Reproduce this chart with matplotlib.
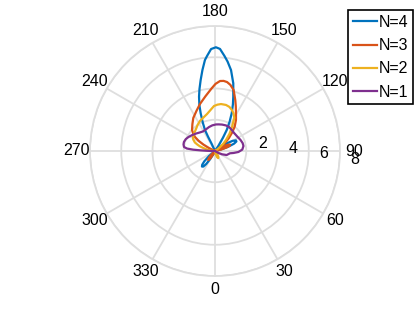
import numpy as np
import matplotlib
matplotlib.use("Agg")
import matplotlib.pyplot as plt

plt.rcParams['font.family'] = ['Liberation Sans', 'DejaVu Sans']

# ---- data (degrees, radius) ----
theta_n4 = [0, 100, 105, 108, 111, 114, 117, 120, 123, 126, 130, 135, 140, 146, 149, 150.9,
            153.5, 156.1, 159, 161.4, 164.9, 168.8, 172, 174.3, 177.2, 179.5, 182.2, 184.8,
            186.3, 188.8, 191.4, 194, 196.4, 198.8, 200.8, 203.2, 205.5, 206, 205, 210,
            305, 310, 314, 317, 320, 323, 326, 329, 333, 338, 360]
r_n4 = [0, 0, 0.4, 0.9, 1.3, 1.5, 1.5, 1.3, 0.9, 0.5, 0.2, 0, 0, 0.4, 1.0, 1.54,
        2.1, 2.64, 3.2, 3.67, 4.49, 5.28, 5.78, 6.11, 6.54, 6.64, 6.53, 6.1,
        5.86, 5.25, 4.64, 4.1, 3.62, 3.1, 2.58, 2.0, 1.49, 1.0, 0.5, 0,
        0, 0.5, 0.95, 1.2, 1.3, 1.25, 1.0, 0.6, 0.2, 0, 0]

theta_n3 = [0, 98, 103, 107, 110, 113, 116, 119, 122, 125, 127, 130, 132.8, 137, 141, 146,
            150.9, 155, 158.3, 163, 167, 170.1, 173, 175.9, 179.5, 183, 190, 197.7, 205,
            213.3, 220, 227.6, 232, 235, 238, 241, 244, 248, 252,
            310, 315, 319, 323, 327, 331, 336, 360]
r_n3 = [0, 0, 0.4, 0.8, 1.0, 1.05, 0.9, 0.6, 0.3, 0.35, 0.6, 0.9, 1.2, 1.6, 2.0, 2.4,
        2.76, 3.15, 3.51, 4.08, 4.35, 4.48, 4.52, 4.49, 4.3, 4.02, 3.55, 3.16, 2.82,
        2.53, 2.25, 1.99, 1.75, 1.56, 1.25, 0.85, 0.45, 0.1, 0,
        0, 0.3, 0.6, 0.72, 0.6, 0.3, 0, 0]

theta_n2 = [0, 8, 14, 19, 24, 29, 34, 40, 45, 120, 125, 128, 131, 135, 140, 144.7, 149.7,
            154, 158.3, 162, 166.6, 172.7, 177, 181.3, 186, 192.2, 199, 206.6, 214, 220.8,
            229, 237.5, 242, 247, 250, 253, 256, 260, 264, 268, 360]
r_n2 = [0, 0, 0.25, 0.42, 0.5, 0.45, 0.3, 0.1, 0, 0, 0.2, 0.4, 0.7, 1.0, 1.45, 1.88, 2.45,
        2.7, 2.86, 2.97, 3.03, 3.03, 2.97, 2.88, 2.65, 2.42, 2.27, 2.15, 2.0, 1.86,
        1.76, 1.67, 1.58, 1.4, 1.2, 1.0, 0.75, 0.5, 0.25, 0, 0]

theta_n1 = [0, 55, 60, 65, 71, 77, 81.3, 84, 87.6, 93, 100, 106, 113.3, 123, 133.5, 141,
            149.7, 157, 165.2, 172, 178, 186, 194, 203, 211.6, 219, 227.4, 235, 242.2,
            248, 253.8, 258, 262.6, 265, 266.5, 267.5, 268.5, 270, 273, 360]
r_n1 = [0, 0, 0.25, 0.5, 0.79, 0.88, 0.97, 1.2, 1.5, 1.75, 1.85, 1.84, 1.78, 1.7, 1.68, 1.72,
        1.78, 1.78, 1.75, 1.72, 1.7, 1.65, 1.58, 1.5, 1.47, 1.53, 1.65, 1.78, 1.92,
        2.02, 2.07, 2.06, 2.0, 1.8, 1.4, 0.9, 0.5, 0.2, 0, 0]

series = [("N=4", theta_n4, r_n4, "#0072BD"),
          ("N=3", theta_n3, r_n3, "#D95319"),
          ("N=2", theta_n2, r_n2, "#EDB120"),
          ("N=1", theta_n1, r_n1, "#7E2F8E")]

theta_ticks = list(range(0, 360, 30))
r_ticks = [2, 4, 6, 8]

fig = plt.figure(figsize=(4.15, 3.12), dpi=100)
ax = fig.add_axes([90 / 415, 36 / 312, 250 / 415, 250 / 312], projection='polar')
ax.set_theta_zero_location('S')
ax.set_theta_direction(1)
ax.set_ylim(0, 8)

grid_c = '#dedede'
ax.set_thetagrids(theta_ticks, labels=[''] * len(theta_ticks))
ax.set_rgrids(r_ticks, labels=[''] * len(r_ticks))
ax.grid(True, color=grid_c, lw=1.3)
ax.spines['polar'].set_color(grid_c)
ax.spines['polar'].set_linewidth(1.3)
ax.tick_params(length=0)

for lab, th, rr, c in series:
    ax.plot(np.deg2rad(th), rr, color=c, lw=1.6, label=lab)

fs = 11.5
for t in theta_ticks:
    ax.text(np.deg2rad(t), 8 * 139 / 125, str(t), ha='center', va='center', fontsize=fs)
for rv in r_ticks:
    ax.annotate(str(rv), xy=(np.deg2rad(80), rv), xytext=(16.7, 13.4),
                textcoords='offset pixels', ha='center', va='center', fontsize=fs)

leg = ax.legend(loc='upper right', bbox_to_anchor=(413 / 415, 1 - 10 / 312),
                bbox_transform=fig.transFigure, borderaxespad=0, fancybox=False,
                framealpha=1, edgecolor='black', fontsize=fs, handlelength=1.5,
                handletextpad=0.1, labelspacing=0.52, borderpad=0.3)
leg.get_frame().set_linewidth(1.2)

fig.savefig("out.png", dpi=100)
